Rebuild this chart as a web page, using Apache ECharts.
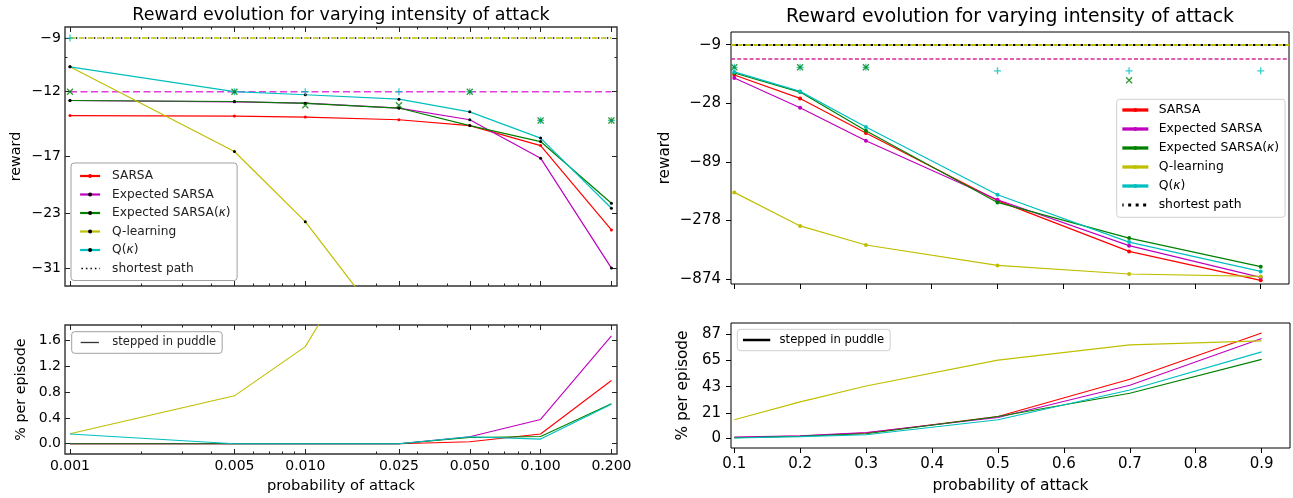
<!DOCTYPE html>
<html><head><meta charset="utf-8">
<script src="https://cdn.jsdelivr.net/npm/echarts@6/dist/echarts.min.js"></script>
<style>html,body{margin:0;padding:0;background:#fff}#c{width:1293px;height:498px}</style>
</head><body><div id="c"></div>
<script>
// ================= DATA =================
const seriesNames = ['SARSA', 'Expected SARSA', 'Expected SARSA(κ)', 'Q-learning', 'Q(κ)'];
const shortestPathReward = -9;
const bestExpSarsaReward = -12;

// ---- left panel (log-scaled attack probability) ----
const leftAttackProb = [0.001, 0.005, 0.01, 0.025, 0.05, 0.1, 0.2];
const leftXTicks = [0.001, 0.005, 0.01, 0.025, 0.05, 0.1, 0.2];
const leftXTickLabels = ['0.001', '0.005', '0.010', '0.025', '0.050', '0.100', '0.200'];
const leftXMinorTicks = [0.002, 0.003, 0.004, 0.006, 0.007, 0.008, 0.009, 0.02, 0.03, 0.04, 0.06, 0.07, 0.08, 0.09];
const leftRewardTicks = [-9, -12, -17, -23, -31];
const leftRewardMinorTicks = [-10];
const leftPuddleTicks = [0.0, 0.4, 0.8, 1.2, 1.6];

const leftRewardSarsa = [-13.64, -13.68, -13.75, -13.95, -14.39, -16.02, -25.18];
const leftRewardExpSarsa = [-12.58, -12.67, -12.76, -13.10, -13.95, -17.14, -30.9];
const leftRewardExpSarsaK = [-12.58, -12.65, -12.78, -13.10, -14.39, -15.68, -21.82];
const leftRewardQ = [-10.5, -16.54, -24.09, -46.4, -80, -180, -300];
const leftRewardQK = [-10.5, -12.0, -12.2, -12.49, -13.37, -15.39, -22.42];

const leftSpreadSarsa = [0.1, 0.1, 0.1, 0.1, 0.15, 0.3, 1.0];
const leftSpreadExpSarsa = [0.05, 0.05, 0.05, 0.1, 0.12, 0.2, 0.5];
const leftSpreadExpSarsaK = [0.08, 0.08, 0.1, 0.15, 0.2, 0.2, 0.3];

const leftBestQK = [-9, -12, -12, -12, -12, -14, -14];
const leftBestExpSarsaK = [-12, -12, -12.9, -12.9, -12, -14, -14];

const leftPuddleSarsa = [0, 0, 0, 0, 0.03, 0.15, 0.98];
const leftPuddleExpSarsa = [0, 0, 0, 0, 0.108, 0.376, 1.669];
const leftPuddleExpSarsaK = [0, 0, 0, 0, 0.097, 0.113, 0.62];
const leftPuddleQ = [0.155, 0.742, 1.504, 3.9, 6.0, 9.0, 12.0];
const leftPuddleQK = [0.15, 0, 0, 0, 0.108, 0.072, 0.613];

// ---- right panel (linear attack probability) ----
const rightAttackProb = [0.1, 0.2, 0.3, 0.5, 0.7, 0.9];
const rightXTicks = [0.1, 0.2, 0.3, 0.4, 0.5, 0.6, 0.7, 0.8, 0.9];
const rightRewardTicks = [-9, -28, -89, -278, -874];
const rightPuddleTicks = [0, 21, 43, 65, 87];

const rightRewardSarsa = [-16.26, -25.69, -50.5, -189, -510, -898];
const rightRewardExpSarsa = [-17.24, -30.8, -58.7, -186, -456, -847];
const rightRewardExpSarsaK = [-15.64, -22.7, -48.3, -196, -393, -687];
const rightRewardQ = [-161, -310, -450, -670, -793, -831];
const rightRewardQK = [-15.3, -22.4, -44.9, -168.5, -425, -754];

const rightBestQKProb = [0.1, 0.2, 0.3, 0.5, 0.7, 0.9];
const rightBestQK = [-14, -14, -14, -15, -15, -15];
const rightBestExpSarsaKProb = [0.1, 0.2, 0.3, 0.7];
const rightBestExpSarsaK = [-14, -14, -14, -18];

const rightPuddleSarsa = [0.5, 1.7, 4.2, 18, 49.2, 88.1];
const rightPuddleExpSarsa = [0.8, 1.8, 4.7, 17.2, 44.2, 83.4];
const rightPuddleExpSarsaK = [0.2, 1.5, 3.6, 18, 37.5, 65.9];
const rightPuddleQ = [15.3, 30.3, 43.6, 65.3, 78.1, 81.4];
const rightPuddleQK = [0, 1.2, 2.8, 15.3, 40.3, 72.2];

// ================= CHART =================
const FONT = 'DejaVu Sans';
const C = { sarsa: '#ff0000', exp: '#bf00bf', expk: '#008000', q: '#bfbf00', qk: '#00bfbf' };
const colorList = [C.sarsa, C.exp, C.expk, C.q, C.qk];
const lg = Math.log10;
const lnr = r => Math.log(-r); // reward magnitude on a log scale
const MINUS = '\u2212';

const base = {
  type: 'value', splitLine: { show: false },
  axisLine: { show: false, onZero: false },
  axisLabel: { show: false }, axisTick: { show: false }, axisPointer: { show: false }
};
function ticks(values, len, inside, color) {
  return { show: true, customValues: values, length: len, inside: inside, lineStyle: { color: color || '#222', width: 1 } };
}
function nearestLabel(v, vals, labels) {
  let best = 0, d = Infinity;
  vals.forEach((t, i) => { const dd = Math.abs(t - v); if (dd < d) { d = dd; best = i; } });
  return labels[best];
}
const LX = { min: -3.0212, max: -0.6753 };
const RX = { min: 0.095, max: 0.943 };
const lxMaj = leftXTicks.map(lg), lxMin = leftXMinorTicks.map(lg);

const xAxis = [
  // grid0 (top-left)
  Object.assign({}, base, LX, { gridIndex: 0, position: 'bottom', axisTick: ticks(lxMaj, 5, true) }),
  Object.assign({}, base, LX, { gridIndex: 0, position: 'bottom', axisTick: ticks(lxMin, 2.5, true) }),
  Object.assign({}, base, LX, { gridIndex: 0, position: 'top', axisTick: ticks(lxMaj, 5, true) }),
  Object.assign({}, base, LX, { gridIndex: 0, position: 'top', axisTick: ticks(lxMin, 2.5, true) }),
  // grid1 (bottom-left)
  Object.assign({}, base, LX, {
    gridIndex: 1, position: 'bottom', axisTick: ticks(lxMaj, 5, true),
    axisLabel: { show: true, customValues: lxMaj, margin: 5, fontSize: 14, color: '#000', fontFamily: FONT,
      formatter: v => nearestLabel(v, lxMaj, leftXTickLabels) },
    name: 'probability of attack', nameLocation: 'middle', nameGap: 25,
    nameTextStyle: { fontSize: 14.7, color: '#000', fontFamily: FONT }
  }),
  Object.assign({}, base, LX, { gridIndex: 1, position: 'bottom', axisTick: ticks(lxMin, 2.5, true) }),
  Object.assign({}, base, LX, { gridIndex: 1, position: 'top', axisTick: ticks(lxMaj, 5, true) }),
  Object.assign({}, base, LX, { gridIndex: 1, position: 'top', axisTick: ticks(lxMin, 2.5, true) }),
  // grid2 (top-right)
  Object.assign({}, base, RX, { gridIndex: 2, position: 'bottom', axisTick: ticks(rightXTicks, 5, false, '#000') }),
  // grid3 (bottom-right)
  Object.assign({}, base, RX, {
    gridIndex: 3, position: 'bottom', axisTick: ticks(rightXTicks, 5, false, '#000'),
    axisLabel: { show: true, customValues: rightXTicks, margin: 9, fontSize: 15, color: '#000', fontFamily: FONT,
      formatter: v => v.toFixed(1) },
    name: 'probability of attack', nameLocation: 'middle', nameGap: 30,
    nameTextStyle: { fontSize: 15.5, color: '#000', fontFamily: FONT }
  })
];

const LY0 = { min: 2.138, max: 3.527, inverse: true };
const LY1 = { min: -0.159, max: 1.839 };
const RY0 = { min: 1.949, max: 6.871, inverse: true };
const RY1 = { min: -8.34, max: 96.4 };
const lyMaj = leftRewardTicks.map(lnr), lyMin = leftRewardMinorTicks.map(lnr);
const ryMaj = rightRewardTicks.map(lnr);

const yAxis = [
  Object.assign({}, base, LY0, {
    gridIndex: 0, position: 'left', axisTick: ticks(lyMaj, 5, true),
    axisLabel: { show: true, customValues: lyMaj, margin: 4, fontSize: 14, color: '#000', fontFamily: FONT,
      formatter: v => MINUS + Math.abs(nearestLabel(v, lyMaj, leftRewardTicks)) },
    name: 'reward', nameLocation: 'middle', nameRotate: 90, nameGap: 42,
    nameTextStyle: { fontSize: 14.3, color: '#000', fontFamily: FONT }
  }),
  Object.assign({}, base, LY0, { gridIndex: 0, position: 'left', axisTick: ticks(lyMin, 2.5, true) }),
  Object.assign({}, base, LY0, { gridIndex: 0, position: 'right', axisTick: ticks(lyMaj, 5, true) }),
  Object.assign({}, base, LY0, { gridIndex: 0, position: 'right', axisTick: ticks(lyMin, 2.5, true) }),
  Object.assign({}, base, LY1, {
    gridIndex: 1, position: 'left', axisTick: ticks(leftPuddleTicks, 5, true),
    axisLabel: { show: true, customValues: leftPuddleTicks, margin: 4, fontSize: 14, color: '#000', fontFamily: FONT,
      formatter: v => v.toFixed(1) },
    name: '% per episode', nameLocation: 'middle', nameRotate: 90, nameGap: 37,
    nameTextStyle: { fontSize: 14.3, color: '#000', fontFamily: FONT }
  }),
  Object.assign({}, base, LY1, { gridIndex: 1, position: 'right', axisTick: ticks(leftPuddleTicks, 5, true) }),
  Object.assign({}, base, RY0, {
    gridIndex: 2, position: 'left', axisTick: ticks(ryMaj, 5, false, '#000'),
    axisLabel: { show: true, customValues: ryMaj, margin: 10, fontSize: 15, color: '#000', fontFamily: FONT,
      formatter: v => MINUS + Math.abs(nearestLabel(v, ryMaj, rightRewardTicks)) },
    name: 'reward', nameLocation: 'middle', nameRotate: 90, nameGap: 58,
    nameTextStyle: { fontSize: 15.2, color: '#000', fontFamily: FONT }
  }),
  Object.assign({}, base, RY1, {
    gridIndex: 3, position: 'left', axisTick: ticks(rightPuddleTicks, 5, false, '#000'),
    axisLabel: { show: true, customValues: rightPuddleTicks, margin: 10, fontSize: 15, color: '#000', fontFamily: FONT,
      formatter: v => String(v) },
    name: '% per episode', nameLocation: 'middle', nameRotate: 90, nameGap: 41,
    nameTextStyle: { fontSize: 15.4, color: '#000', fontFamily: FONT }
  })
];

const series = [];
const common = { animation: false, silent: true };

// ---------- top-left ----------
function hline(name, xs, value, color, width, type, dashOffset, xi, yi, z) {
  series.push(Object.assign({}, common, {
    type: 'line', name: name, xAxisIndex: xi, yAxisIndex: yi, z: z,
    data: xs.map(x => [x, value]), symbol: 'none',
    lineStyle: { color: color, width: width, type: type, dashOffset: dashOffset || 0 }
  }));
}
const lxData = leftAttackProb.map(lg);
hline('q-opt-left', lxData, lnr(shortestPathReward), C.q, 1.4, [5, 4], 0, 0, 0, 2);
hline('shortest path', lxData, lnr(shortestPathReward), '#000', 1.4, [1.5, 7.5], -5.8, 0, 0, 3);
hline('es-opt-left', lxData, lnr(bestExpSarsaReward), '#e23be2', 1.6, [7, 3.5], 0, 0, 0, 2);

function band(id, vals, spread, color, xi, yi, xs) {
  series.push(Object.assign({}, common, {
    type: 'line', name: id + '-lo', stack: id, xAxisIndex: xi, yAxisIndex: yi, z: 1, symbol: 'none',
    lineStyle: { opacity: 0 }, data: xs.map((x, i) => [x, lnr(vals[i] + spread[i])])
  }));
  series.push(Object.assign({}, common, {
    type: 'line', name: id + '-hi', stack: id, xAxisIndex: xi, yAxisIndex: yi, z: 1, symbol: 'none',
    lineStyle: { opacity: 0 }, areaStyle: { color: color, opacity: 0.16 },
    data: xs.map((x, i) => [x, lnr(vals[i] - spread[i]) - lnr(vals[i] + spread[i])])
  }));
}
band('bs', leftRewardSarsa, leftSpreadSarsa, C.sarsa, 0, 0, lxData);
band('be', leftRewardExpSarsa, leftSpreadExpSarsa, C.exp, 0, 0, lxData);
band('bk', leftRewardExpSarsaK, leftSpreadExpSarsaK, C.expk, 0, 0, lxData);

const leftRewards = [leftRewardSarsa, leftRewardExpSarsa, leftRewardExpSarsaK, leftRewardQ, leftRewardQK];
leftRewards.forEach((vals, k) => {
  series.push(Object.assign({}, common, {
    type: 'line', name: seriesNames[k], xAxisIndex: 0, yAxisIndex: 0, z: 5,
    data: lxData.map((x, i) => [x, lnr(vals[i])]),
    symbol: 'circle', symbolSize: 3, showSymbol: true,
    itemStyle: { color: k === 0 ? C.sarsa : '#000' },
    lineStyle: { color: colorList[k], width: 1.2 }
  }));
});
const PLUS = 'path://M5,0L5,10M0,5L10,5';
const CROSS = 'path://M0,0L10,10M10,0L0,10';
function markers(name, xs, ys, sym, color, xi, yi, size) {
  series.push(Object.assign({}, common, {
    type: 'scatter', name: name, xAxisIndex: xi, yAxisIndex: yi, z: 6,
    symbol: sym, symbolSize: size,
    itemStyle: { color: 'none', borderColor: color, borderWidth: 1.3 },
    data: xs.map((x, i) => [x, ys[i]])
  }));
}
markers('best-qk-left', lxData, leftBestQK.map(lnr), PLUS, C.qk, 0, 0, 7);
markers('best-ek-left', lxData, leftBestExpSarsaK.map(lnr), CROSS, C.expk, 0, 0, 6);

// ---------- bottom-left ----------
const leftPuddles = [leftPuddleSarsa, leftPuddleExpSarsa, leftPuddleExpSarsaK, leftPuddleQ, leftPuddleQK];
leftPuddles.forEach((vals, k) => {
  series.push(Object.assign({}, common, {
    type: 'line', name: 'lp-' + k, xAxisIndex: 4, yAxisIndex: 4, z: 5, symbol: 'none',
    data: lxData.map((x, i) => [x, vals[i]]),
    lineStyle: { color: colorList[k], width: 1.1 }
  }));
});
series.push(Object.assign({}, common, {
  type: 'line', name: 'stepped in puddle', xAxisIndex: 4, yAxisIndex: 4, data: [], symbol: 'none',
  lineStyle: { color: '#333', width: 1.3 }
}));

// ---------- top-right ----------
function mline(name, value, color, width, type, dashOffset, z) {
  series.push(Object.assign({}, common, {
    type: 'line', name: name, xAxisIndex: 8, yAxisIndex: 6, data: [], symbol: 'none', z: z,
    lineStyle: { color: color, width: width, type: type },
    markLine: {
      silent: true, symbol: 'none', label: { show: false }, animation: false,
      lineStyle: { color: color, width: width, type: type, dashOffset: dashOffset || 0 },
      data: [{ yAxis: value }]
    }
  }));
}
mline('q-opt-right', lnr(shortestPathReward), C.q, 2, [4, 3.5], 0, 2);
mline('shortest path ', lnr(shortestPathReward), '#000', 2.2, [2.5, 5], -4.5, 3);
mline('es-opt-right', lnr(bestExpSarsaReward), '#d8289a', 1.5, [4, 2.2], 0, 2);

const rightRewards = [rightRewardSarsa, rightRewardExpSarsa, rightRewardExpSarsaK, rightRewardQ, rightRewardQK];
rightRewards.forEach((vals, k) => {
  series.push(Object.assign({}, common, {
    type: 'line', name: seriesNames[k] + ' ', xAxisIndex: 8, yAxisIndex: 6, z: 5,
    data: rightAttackProb.map((x, i) => [x, lnr(vals[i])]),
    symbol: 'circle', symbolSize: 4, showSymbol: true,
    itemStyle: { color: colorList[k] },
    lineStyle: { color: colorList[k], width: 1.2 }
  }));
});
markers('best-qk-right', rightBestQKProb, rightBestQK.map(lnr), PLUS, C.qk, 8, 6, 7);
markers('best-ek-right', rightBestExpSarsaKProb, rightBestExpSarsaK.map(lnr), CROSS, C.expk, 8, 6, 6);

// ---------- bottom-right ----------
const rightPuddles = [rightPuddleSarsa, rightPuddleExpSarsa, rightPuddleExpSarsaK, rightPuddleQ, rightPuddleQK];
rightPuddles.forEach((vals, k) => {
  series.push(Object.assign({}, common, {
    type: 'line', name: 'rp-' + k, xAxisIndex: 9, yAxisIndex: 7, z: 5, symbol: 'none',
    data: rightAttackProb.map((x, i) => [x, vals[i]]),
    lineStyle: { color: colorList[k], width: 1.1 }
  }));
});
series.push(Object.assign({}, common, {
  type: 'line', name: 'stepped in puddle ', xAxisIndex: 9, yAxisIndex: 7, data: [], symbol: 'none',
  lineStyle: { color: '#000', width: 2.5 }
}));

// ---------- legends ----------
const rich = { k: { fontStyle: 'italic', fontFamily: FONT } };
const fmt = n => n.replace('κ', '{k|κ}');
const noDot = { color: 'rgba(0,0,0,0)', borderColor: 'rgba(0,0,0,0)', borderWidth: 0 };
const legend = [
  {
    left: 71, top: 163, orient: 'vertical', selectedMode: false,
    padding: [6, 6.5, 5, 8], itemGap: 4.5, itemWidth: 20, itemHeight: 5,
    backgroundColor: '#fff', borderColor: '#a0a0a0', borderWidth: 1, borderRadius: 3,
    textStyle: { fontFamily: FONT, fontSize: 12.2, lineHeight: 14, color: '#222', padding: [0, 0, 0, 7], rich: Object.assign({}, rich) },
    formatter: fmt,
    data: seriesNames.map((n, k) => ({ name: n, itemStyle: { color: k === 0 ? C.sarsa : '#000' }, lineStyle: { color: colorList[k], width: 2.2 } }))
      .concat([{ name: 'shortest path', itemStyle: noDot, lineStyle: { color: '#000', width: 1.5, type: [1.5, 3] } }])
  },
  {
    left: 71.7, top: 331.7, orient: 'vertical', selectedMode: false,
    padding: [3.8, 6, 3.8, 8.3], itemWidth: 18.3, itemHeight: 5,
    backgroundColor: '#fff', borderColor: '#a0a0a0', borderWidth: 1, borderRadius: 3,
    textStyle: { fontFamily: FONT, fontSize: 11.5, lineHeight: 14, color: '#222', padding: [0, 0, 0, 8.4] },
    data: [{ name: 'stepped in puddle', itemStyle: noDot, lineStyle: { color: '#333', width: 1.3 } }]
  },
  {
    left: 1116.7, top: 99.3, orient: 'vertical', selectedMode: false,
    padding: [3.7, 6, 5.3, 4], itemGap: 5, itemWidth: 26, itemHeight: 5,
    backgroundColor: 'rgba(255,255,255,0.8)', borderColor: '#d0d0d0', borderWidth: 1, borderRadius: 3,
    textStyle: { fontFamily: FONT, fontSize: 12.4, lineHeight: 14, color: '#000', padding: [0, 0, 0, 5.3], rich: Object.assign({}, rich) },
    formatter: n => fmt(n.trim()),
    data: seriesNames.map((n, k) => ({ name: n + ' ', itemStyle: { color: colorList[k] }, lineStyle: { color: colorList[k], width: 3.3 } }))
      .concat([{ name: 'shortest path ', itemStyle: noDot, lineStyle: { color: '#000', width: 3, type: [3, 4.5] } }])
  },
  {
    left: 737.3, top: 329.3, orient: 'vertical', selectedMode: false,
    padding: [3.7, 6, 3.7, 4.4], itemWidth: 27.3, itemHeight: 5,
    backgroundColor: 'rgba(255,255,255,0.8)', borderColor: '#d0d0d0', borderWidth: 1, borderRadius: 3,
    textStyle: { fontFamily: FONT, fontSize: 11.6, lineHeight: 14, color: '#000', padding: [0, 0, 0, 4.3] },
    formatter: n => n.trim(),
    data: [{ name: 'stepped in puddle ', itemStyle: noDot, lineStyle: { color: '#000', width: 2.5 } }]
  }
];

const option = {
  animation: false,
  backgroundColor: '#fff',
  textStyle: { fontFamily: FONT },
  grid: [
    { left: 65, top: 27, width: 552, height: 259, show: true, borderColor: '#333', borderWidth: 1.4, backgroundColor: 'transparent' },
    { left: 65, top: 325, width: 552, height: 129, show: true, borderColor: '#333', borderWidth: 1.4, backgroundColor: 'transparent' },
    { left: 731, top: 32, width: 558, height: 252, show: true, borderColor: '#000', borderWidth: 1, backgroundColor: 'transparent' },
    { left: 731, top: 323, width: 559, height: 125, show: true, borderColor: '#000', borderWidth: 1, backgroundColor: 'transparent' }
  ],
  xAxis: xAxis,
  yAxis: yAxis,
  legend: legend,
  series: series,
  graphic: [
    { type: 'text', x: 341, y: 15.6, silent: true,
      style: { text: 'Reward evolution for varying intensity of attack', align: 'center', verticalAlign: 'middle',
        fontSize: 17.5, fontFamily: FONT, fill: '#000' } },
    { type: 'text', x: 1010, y: 16.7, silent: true,
      style: { text: 'Reward evolution for varying intensity of attack', align: 'center', verticalAlign: 'middle',
        fontSize: 18.8, fontFamily: FONT, fill: '#000' } }
  ]
};
const chart = echarts.init(document.getElementById('c'), null, { renderer: 'canvas' });
chart.setOption(option);
</script>
</body></html>
